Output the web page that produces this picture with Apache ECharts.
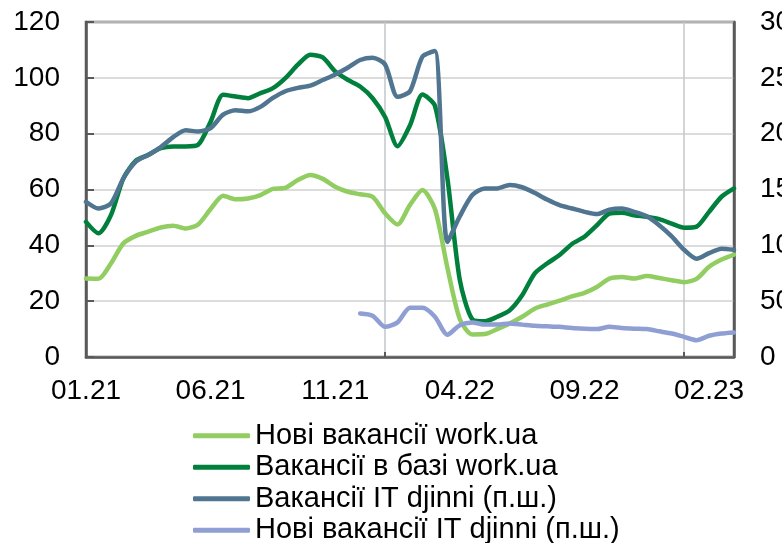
<!DOCTYPE html>
<html>
<head>
<meta charset="utf-8">
<script src="https://cdn.jsdelivr.net/npm/echarts@6/dist/echarts.min.js"></script>
<style>
html,body{margin:0;padding:0;background:#fff}
#main{width:782px;height:543px}
</style>
</head>
<body>
<div id="main"></div>
<script>
// half-month points, 01.21 .. 03.23
var dates = [];
for (var m = 0; m <= 26; m++) {
	var mm = (m % 12) + 1, yy = 21 + Math.floor(m / 12);
	var lab = (mm < 10 ? '0' + mm : '' + mm) + '.' + yy;
	dates.push(lab);
	if (m < 26) dates.push(lab + ' II');
}

var names = ['Нові вакансії work.ua', 'Вакансії в базі work.ua', 'Вакансії IT djinni (п.ш.)', 'Нові вакансії IT djinni (п.ш.)'];

// left axis
var newWork = [28.1, 28, 33.5, 40.7, 43.4, 44.9, 46.4, 47, 46, 47.5,
	53, 57.8, 56.5, 56.8, 58, 60.2, 60.6, 63.4, 65.2, 63.8,
	61, 59.2, 58.3, 57.4, 51.5, 47.5, 54.5, 59.8, 53, 32,
	13.5, 8.1, 8.2, 10, 12, 14.4, 17.3, 18.8, 20.2, 21.7,
	23, 25.1, 28.1, 28.7, 28.1, 29, 28.3, 27.5, 26.8, 28,
	32.3, 34.9, 36.7];
var baseWork = [48.4, 44.3, 50.8, 64, 70.3, 72.4, 74.8, 75.4, 75.4, 76,
	84.3, 93.9, 93.3, 92.7, 94.5, 96.3, 99.9, 104.7, 108.3, 107.3,
	102.3, 99.3, 96.9, 92.7, 86, 75.5, 83, 94, 90, 64,
	27.5, 13.5, 12.8, 14.4, 16.7, 22.1, 29.9, 33.5, 36.5, 40.5,
	43.1, 47.2, 51.4, 51.7, 50.8, 50.2, 49.4, 47.8, 46.3, 46.7,
	52, 57.4, 60.4];
// right axis
var itBase = [139, 133, 137.5, 160, 175, 181, 188, 197, 203, 202,
	205, 217, 221, 220, 224, 232, 238, 241, 243, 248,
	253, 259, 266, 268, 262, 233, 238, 269, 274, 103,
	126, 145, 151, 151, 154, 152, 147, 141, 136, 133,
	130, 128, 132, 133, 130, 126, 118, 108, 96, 88,
	93, 97, 96];
var itNew = [null, null, null, null, null, null, null, null, null, null,
	null, null, null, null, null, null, null, null, null, null,
	null, null, 39, 37, 27, 31, 44, 44, 36, 20,
	28.5, 31, 29, 29, 30, 29, 28, 27.5, 27, 26,
	25.4, 25, 27, 26, 25.4, 25, 23, 21, 18, 15,
	19, 21, 22];

var colors = ['#92cd62', '#007f3d', '#4f7590', '#8f9fd4'];
var yearIdx = [24, 48];
var font = "'Liberation Sans', Arial, sans-serif";

var myChart = echarts.init(document.getElementById('main'));

function line(name, data, axis, color) {
	return {
		name: name,
		type: 'line',
		yAxisIndex: axis,
		data: data,
		smooth: 0.25,
		showSymbol: false,
		symbol: 'none',
		animation: false,
		lineStyle: { width: 4.5, color: color, cap: 'round', join: 'round' },
		itemStyle: { color: color }
	};
}

myChart.setOption({
	backgroundColor: '#fff',
	color: colors,
	grid: {
		left: 86,
		right: 48,
		top: 22,
		bottom: 186,
		outerBoundsMode: 'none',
		containLabel: false,
		show: true,
		borderColor: '#595959',
		borderWidth: 2.5
	},
	legend: {
		orient: 'vertical',
		left: 193,
		top: 420,
		height: 200,
		padding: 0,
		itemGap: 0,
		itemWidth: 57,
		itemHeight: 5,
		icon: 'roundRect',
		data: names,
		textStyle: {
			fontFamily: font,
			fontSize: 29,
			color: '#000',
			lineHeight: 31.5
		}
	},
	xAxis: {
		type: 'category',
		data: dates,
		boundaryGap: false,
		axisLine: { lineStyle: { color: '#595959', width: 2.5 } },
		axisTick: {
			inside: true,
			length: 5,
			interval: function (i) { return yearIdx.indexOf(i) >= 0; },
			lineStyle: { color: '#595959', width: 2 }
		},
		splitLine: {
			show: true,
			interval: function (i) { return yearIdx.indexOf(i) >= 0; },
			lineStyle: { color: '#c3c7cb', width: 1.5 }
		},
		axisLabel: {
			interval: 9,
			margin: 20,
			fontFamily: font,
			fontSize: 28,
			color: '#000',
			formatter: function (v) { return v.slice(0, 5); }
		}
	},
	yAxis: [
		{
			type: 'value',
			min: 0,
			max: 120,
			interval: 20,
			axisLine: { show: true, lineStyle: { color: '#595959', width: 2.5 } },
			axisTick: { show: true, inside: true, length: 8, lineStyle: { color: '#595959', width: 2 } },
			splitLine: { lineStyle: { color: '#d0d0d0', width: 1.5 } },
			axisLabel: { margin: 26, fontFamily: font, fontSize: 28, color: '#000' }
		},
		{
			type: 'value',
			min: 0,
			max: 300,
			interval: 50,
			axisLine: { show: true, lineStyle: { color: '#595959', width: 2.5 } },
			axisTick: { show: false },
			splitLine: { show: false },
			axisLabel: { margin: 26, fontFamily: font, fontSize: 28, color: '#000' }
		}
	],
	series: [
		line(names[0], newWork, 0, colors[0]),
		line(names[1], baseWork, 0, colors[1]),
		line(names[2], itBase, 1, colors[2]),
		line(names[3], itNew, 1, colors[3])
	]
});
</script>
</body>
</html>
